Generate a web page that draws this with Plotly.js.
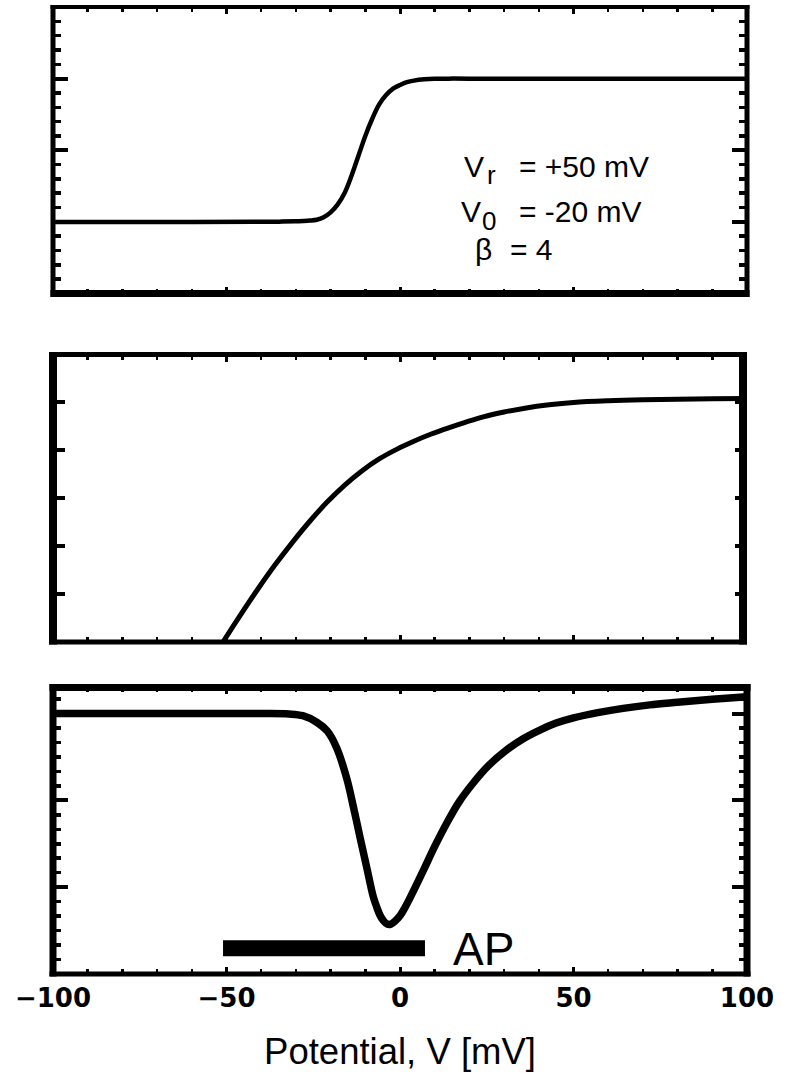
<!DOCTYPE html>
<html>
<head>
<meta charset="utf-8">
<script src="https://cdn.plot.ly/plotly-3.0.1.min.js"></script>
<style>
  html, body { margin: 0; padding: 0; background: #fff; }
  #chart { width: 789px; height: 1076px; }
</style>
</head>
<body>
<div id="chart"></div>
<script>
// Potential axis ticks (mV)
const tickVals = [-100, -50, 0, 50, 100];
const tickText = ['\u2212100', '\u221250', '0', '50', '100'];

// Upper panel: steady-state sigmoid (0 -> 1)
const sigV = [-100, -60, -40, -34, -30, -28, -26, -24, -22, -20, -18, -16, -14, -12, -10, -8, -6, -4, -2, 0, 2, 4, 7, 10, 14, 20, 100];
const sigY = [0, 0, 0.001, 0.002, 0.004, 0.006, 0.009, 0.015, 0.032, 0.066, 0.12, 0.20, 0.32, 0.46, 0.60, 0.72, 0.82, 0.885, 0.93, 0.955, 0.975, 0.986, 0.995, 0.999, 1.0, 1.0, 1.0];

// Middle panel: rising, saturating curve
const midV = [-53, -51, -46, -41, -36, -31, -26, -21, -16, -11, -6, -1, 4, 9, 14, 19, 24, 30, 36, 43, 50, 60, 70, 80, 90, 100];
const midY = [-0.23, 0, 0.56, 1.10, 1.61, 2.08, 2.52, 2.92, 3.27, 3.57, 3.82, 4.02, 4.19, 4.34, 4.47, 4.59, 4.70, 4.80, 4.88, 4.95, 5.00, 5.035, 5.055, 5.065, 5.075, 5.08];

// Lower panel: curve with a dip near 0 mV
const lowV = [-100, -60, -40, -32, -28, -24, -21, -18.3, -15.4, -13.4, -11.5, -9.6, -7.7, -6.7, -5.8, -4.8, -3.7, -2.6, -1.4, 0, 1.5, 3, 6.7, 10, 13.5, 17, 21.1, 25.5, 30.7, 35.5, 40.3, 45, 50, 57, 64.3, 72, 80, 90, 100];
const lowY = [3.0, 3.0, 3.0, 2.995, 2.975, 2.90, 2.80, 2.61, 2.26, 1.92, 1.57, 1.23, 0.89, 0.77, 0.68, 0.615, 0.575, 0.575, 0.61, 0.67, 0.77, 0.885, 1.19, 1.47, 1.74, 1.98, 2.20, 2.40, 2.58, 2.71, 2.81, 2.89, 2.95, 3.01, 3.06, 3.10, 3.13, 3.165, 3.195];

// Action potential range bar
const apV = [-51, 7.2];
const apLevel = [0.297, 0.297];

// Parameter legend of the upper panel
const paramMain = ['V', 'V', '\u03b2'];
const paramSub = ['r', '0', ''];
const paramValue = ['= +50 mV', '= -20 mV', '= 4'];

const TEXT_FONT = 'Liberation Sans, Arial, Helvetica, sans-serif';

function xAxis(anchor, showLabels) {
  return {
    anchor: anchor, domain: [0, 1], range: [-100, 100],
    tickmode: 'array', tickvals: tickVals, ticktext: tickText,
    showticklabels: showLabels,
    ticks: 'inside', ticklen: 7, tickwidth: 3, tickcolor: '#000',
    mirror: 'ticks', showline: false, showgrid: false, zeroline: false,
    minor: { dtick: 10, tick0: 0, ticks: 'inside', ticklen: 5, tickwidth: 2.5, tickcolor: '#000', showgrid: false },
    tickfont: { family: 'DejaVu Sans', size: 26, weight: 'bold', color: '#000' },
    ticklabelstandoff: 6
  };
}

function yAxis(anchor, domain, range, dtick, tlen, minorDtick) {
  const ax = {
    anchor: anchor, domain: domain, range: range,
    tickmode: 'linear', tick0: 0, dtick: dtick, showticklabels: false,
    ticks: 'inside', ticklen: tlen, tickwidth: 4, tickcolor: '#000',
    mirror: 'ticks', showline: false, showgrid: false, zeroline: false
  };
  if (minorDtick) {
    ax.minor = { dtick: minorDtick, tick0: 0, ticks: 'inside', ticklen: 8, tickwidth: 3.5, tickcolor: '#000', showgrid: false };
  }
  return ax;
}

// Panel frames: border widths per side, right inset (px), panel height (px)
const PW = 694;
const frames = [
  { s: '', w: { t: 4, b: 7, l: 5, r: 5 }, rin: 0, ph: 286.5 },
  { s: '2', w: { t: 5, b: 5, l: 8, r: 8 }, rin: 4, ph: 287.5 },
  { s: '3', w: { t: 7, b: 5, l: 7, r: 7 }, rin: 0, ph: 286.5 }
];
const shapes = [];
frames.forEach(f => {
  const xr = 'x' + f.s + ' domain', yr = 'y' + f.s + ' domain';
  const xl = 0, xrgt = 1 - f.rin / PW;
  const exL = f.w.l / 2 / PW, exR = f.w.r / 2 / PW;
  const exB = f.w.b / 2 / f.ph, exT = f.w.t / 2 / f.ph;
  const ln = w => ({ color: '#000', width: w });
  shapes.push({ type: 'line', xref: xr, yref: yr, x0: xl - exL, x1: xrgt + exR, y0: 0, y1: 0, line: ln(f.w.b) });
  shapes.push({ type: 'line', xref: xr, yref: yr, x0: xl - exL, x1: xrgt + exR, y0: 1, y1: 1, line: ln(f.w.t) });
  shapes.push({ type: 'line', xref: xr, yref: yr, x0: xl, x1: xl, y0: -exB, y1: 1 + exT, line: ln(f.w.l) });
  shapes.push({ type: 'line', xref: xr, yref: yr, x0: xrgt, x1: xrgt, y0: -exB, y1: 1 + exT, line: ln(f.w.r) });
});

const traces = [
  { x: sigV, y: sigY, xaxis: 'x', yaxis: 'y', mode: 'lines', line: { color: '#000', width: 4.5, shape: 'spline', smoothing: 1 }, hoverinfo: 'skip' },
  { x: midV, y: midY, xaxis: 'x2', yaxis: 'y2', mode: 'lines', line: { color: '#000', width: 5, shape: 'spline', smoothing: 1 }, hoverinfo: 'skip' },
  { x: lowV, y: lowY, xaxis: 'x3', yaxis: 'y3', mode: 'lines', line: { color: '#000', width: 7.5, shape: 'spline', smoothing: 1 }, hoverinfo: 'skip' },
  { x: apV, y: apLevel, xaxis: 'x3', yaxis: 'y3', mode: 'lines', line: { color: '#000', width: 16 }, hoverinfo: 'skip' }
];

// Parameter text placed in the upper panel's data coordinates
const mainX = [17.9, 17.1, 20.9];
const mainY = [0.390, 0.075, -0.193];
const subX = [24.6, 23.0];
const subY = [0.33, 0.005];
const valX = [33.6, 33.6, 31.2];

const annotations = [];
paramMain.forEach((m, i) => {
  annotations.push({ xref: 'x', yref: 'y', x: mainX[i], y: mainY[i], xanchor: 'left', yanchor: 'middle', showarrow: false,
    text: m, font: { family: TEXT_FONT, size: 30, color: '#000' } });
  if (paramSub[i]) {
    annotations.push({ xref: 'x', yref: 'y', x: subX[i], y: subY[i], xanchor: 'left', yanchor: 'middle', showarrow: false,
      text: paramSub[i], font: { family: TEXT_FONT, size: 26, color: '#000' } });
  }
  annotations.push({ xref: 'x', yref: 'y', x: valX[i], y: mainY[i], xanchor: 'left', yanchor: 'middle', showarrow: false,
    text: paramValue[i], font: { family: TEXT_FONT, size: 30, color: '#000' } });
});
annotations.push({ xref: 'x3', yref: 'y3', x: 14.6, y: 0.29, xanchor: 'left', yanchor: 'middle', showarrow: false,
  text: 'AP', font: { family: TEXT_FONT, size: 46, color: '#000' } });

const xa3 = xAxis('y3', true);
xa3.title = { text: 'Potential, V [mV]', font: { family: TEXT_FONT, size: 36.5, color: '#000' }, standoff: 26 };

const layout = {
  width: 789, height: 1076,
  margin: { l: 53, r: 42, t: 7, b: 102, pad: 0 },
  paper_bgcolor: '#fff', plot_bgcolor: '#fff',
  showlegend: false,
  xaxis: xAxis('y', false),
  xaxis2: xAxis('y2', false),
  xaxis3: xa3,
  yaxis: yAxis('x', [0.7037, 1], [-0.5, 1.5], 0.5, 15, 0.1),
  yaxis2: yAxis('x2', [0.34333, 0.64064], [0, 6], 1, 12, null),
  yaxis3: yAxis('x3', [0, 0.29628], [0, 3.3], 1, 15, 1 / 6),
  shapes: shapes,
  annotations: annotations
};

Plotly.newPlot('chart', traces, layout, { staticPlot: true, displayModeBar: false });
</script>
</body>
</html>
